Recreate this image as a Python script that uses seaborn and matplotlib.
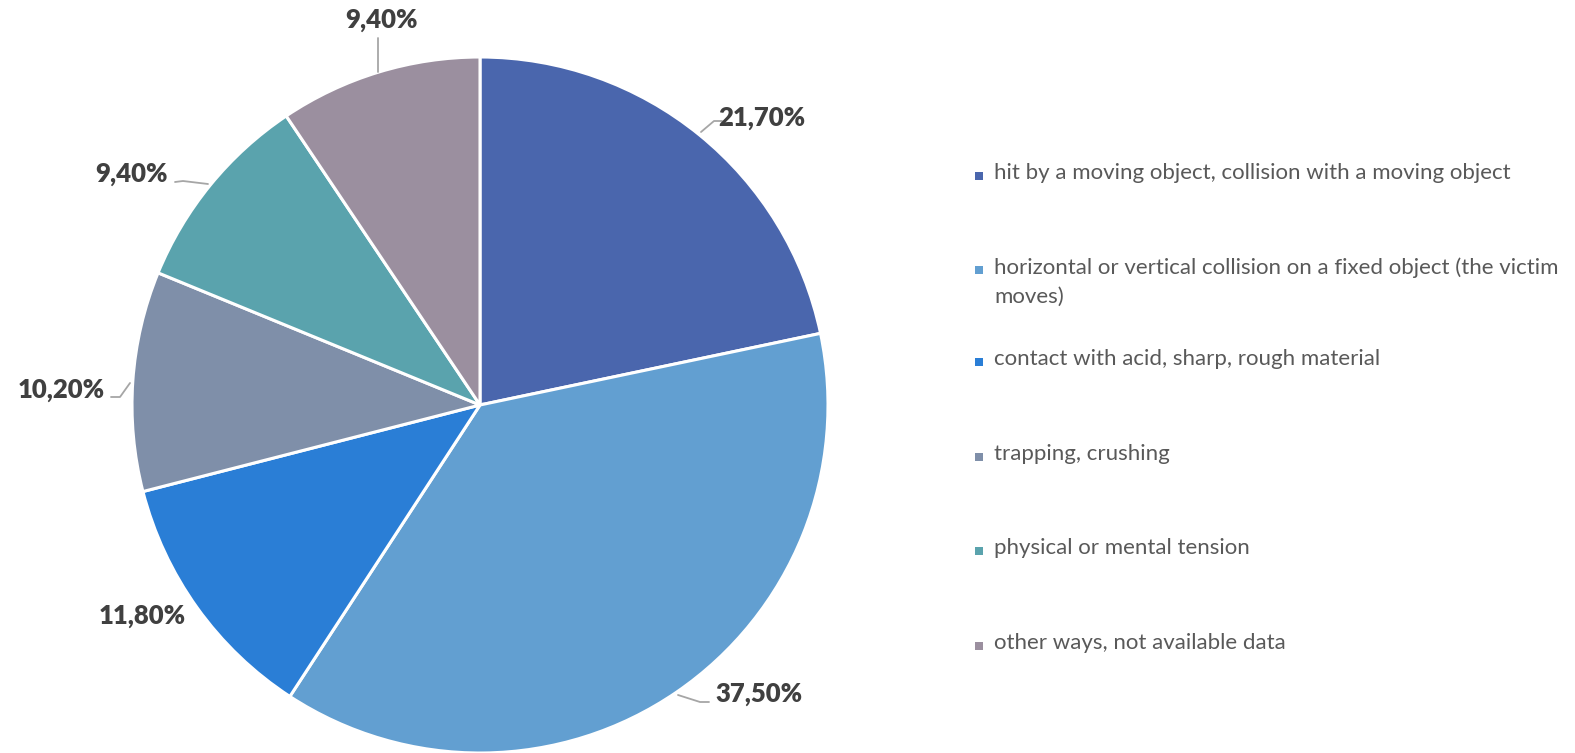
import matplotlib
matplotlib.use("Agg")
import matplotlib.pyplot as plt
import seaborn as sns
from matplotlib.lines import Line2D
from matplotlib.patches import Rectangle

# ---- data ----
categories = [
    "hit by a moving object, collision with a moving object",
    "horizontal or vertical collision on a fixed object (the victim\nmoves)",
    "contact with acid, sharp, rough material",
    "trapping, crushing",
    "physical or mental tension",
    "other ways, not available data",
]
values = [21.7, 37.5, 11.8, 10.2, 9.4, 9.4]
value_labels = ["21,70%", "37,50%", "11,80%", "10,20%", "9,40%", "9,40%"]
colors = ["#4a66ad", "#629fd1", "#2a7ed6", "#7f8fa9", "#5aa3ad", "#9b8f9f"]

# ---- layout (pixels, origin top-left) ----
W, H = 1575, 753
CX, CY, R = 480, 405, 348
label_pos = [(762, 118), (759, 694), (142, 616), (61, 390), (132, 174), (381, 20)]
leaders = [
    [(701, 132), (714, 121), (722, 121)],
    [(678, 695), (700, 702), (709, 702)],
    None,
    [(130, 383), (120, 397), (111, 397)],
    [(208, 184), (183, 181), (175, 182)],
    [(378, 72), (378, 38)],
]
legend_y = [176, 270, 362, 457, 551, 646]
legend_marker_x = 979
legend_text_x = 994

sns.set_theme(style="white")
plt.rcParams["font.family"] = ["Lato", "DejaVu Sans"]

fig = plt.figure(figsize=(W / 100, H / 100), dpi=100)
fig.patch.set_facecolor("white")
ax = fig.add_axes([(CX - R) / W, (H - CY - R) / H, 2 * R / W, 2 * R / H])
ax.pie(values, colors=colors, startangle=90, counterclock=False, radius=1,
       wedgeprops=dict(edgecolor="white", linewidth=2.2))
ax.set_xlim(-1, 1)
ax.set_ylim(-1, 1)
ax.axis("off")

def fx(px):
    return px / W

def fy(py):
    return 1 - py / H

for lab, (px, py) in zip(value_labels, label_pos):
    fig.text(fx(px), fy(py), lab, ha="center", va="center", fontsize=18.5,
             fontweight="heavy", color="#404040")

for ld in leaders:
    if ld is None:
        continue
    xs = [fx(p[0]) for p in ld]
    ys = [fy(p[1]) for p in ld]
    fig.add_artist(Line2D(xs, ys, color="#a6a6a6", lw=1.3))

msz = 8
for cat, col, ly in zip(categories, colors, legend_y):
    fig.add_artist(Rectangle((fx(legend_marker_x - msz / 2), fy(ly + msz / 2)),
                             msz / W, msz / H, facecolor=col, edgecolor="none",
                             transform=fig.transFigure))
    fig.text(fx(legend_text_x), fy(ly - 13), cat, ha="left", va="top",
             fontsize=16, color="#595959", linespacing=1.6)

fig.savefig("out.png", dpi=100, facecolor="white")
